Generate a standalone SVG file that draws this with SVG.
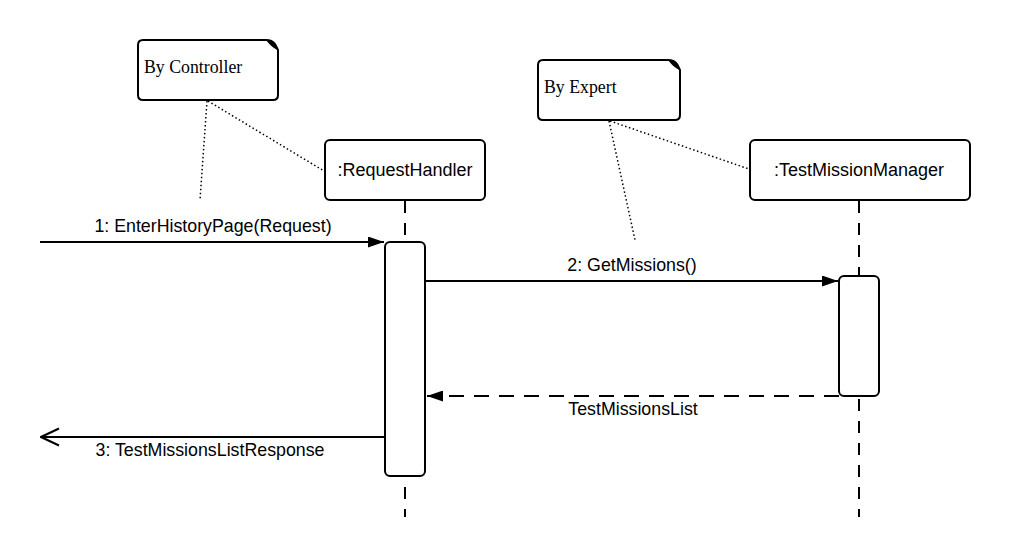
<svg xmlns="http://www.w3.org/2000/svg" width="1009" height="556" viewBox="0 0 1009 556">
  <style>
    .box { fill: #fff; stroke: #000; stroke-width: 2; }
    .note { fill: #fff; stroke: #000; stroke-width: 2; stroke-linejoin: round; }
    .life { stroke: #000; stroke-width: 2; stroke-dasharray: 12 10; fill: none; }
    .msg { stroke: #000; stroke-width: 2; fill: none; }
    .ret { stroke: #000; stroke-width: 2; fill: none; stroke-dasharray: 15 10; }
    .dot { stroke: #000; stroke-width: 1.5; fill: none; stroke-dasharray: 1.5 2.5; }
    .lbl { font-family: "Liberation Sans", Arial, sans-serif; font-size: 17.8px; fill: #000; text-anchor: middle; }
    .name { font-family: "Liberation Sans", Arial, sans-serif; font-size: 18px; fill: #000; text-anchor: middle; }
    .ntxt { font-family: "Liberation Serif", "Times New Roman", serif; font-size: 17.8px; fill: #000; }
  </style>
  <defs>
    <marker id="solid" viewBox="0 0 16 11" refX="16" refY="5.5" markerWidth="16" markerHeight="11" markerUnits="userSpaceOnUse" orient="auto">
      <path d="M0,0 L16,5.5 L0,11 Z" fill="#000"/>
    </marker>
    <marker id="open" viewBox="0 0 20 20" refX="19" refY="10" markerWidth="20" markerHeight="20" markerUnits="userSpaceOnUse" orient="auto">
      <path d="M1,1.5 L19,10 L1,18.5" fill="none" stroke="#000" stroke-width="2"/>
    </marker>
  </defs>

  <rect width="1009" height="556" fill="#fff"/>

  <!-- lifelines -->
  <g id="lifelines">
    <line class="life" x1="405" y1="201" x2="405" y2="517"/>
    <line class="life" x1="859" y1="201" x2="859" y2="517"/>
  </g>

  <!-- notes -->
  <g id="note-controller">
    <path class="note" d="M143,40 L266,40 Q272,40 275,44 L278,50 L278,95 Q278,100 273,100 L143,100 Q138,100 138,95 L138,45 Q138,40 143,40 Z"/>
    <path d="M266,40 Q272,40 275,44 L278,50 Q272,48 266,40 Z" fill="#000"/>
    <text class="ntxt" x="144" y="73">By Controller</text>
  </g>
  <g id="note-expert">
    <path class="note" d="M543,60 L668,60 Q674,60 677,64 L680,70 L680,115 Q680,120 675,120 L543,120 Q538,120 538,115 L538,65 Q538,60 543,60 Z"/>
    <path d="M668,60 Q674,60 677,64 L680,70 Q674,68 668,60 Z" fill="#000"/>
    <text class="ntxt" x="544" y="93">By Expert</text>
  </g>

  <!-- participants -->
  <g id="request-handler">
    <rect class="box" x="325" y="140" width="160" height="60" rx="5"/>
    <text class="name" x="405" y="176">:RequestHandler</text>
  </g>
  <g id="test-mission-manager">
    <rect class="box" x="750" y="140" width="220" height="60" rx="5"/>
    <text class="name" x="859" y="176">:TestMissionManager</text>
  </g>

  <!-- activation bars -->
  <g id="activation-handler">
    <rect class="box" x="385" y="242" width="40" height="234" rx="5"/>
  </g>
  <g id="activation-manager">
    <rect class="box" x="839" y="276" width="40" height="120" rx="5"/>
  </g>

  <!-- connectors -->
  <g id="connectors">
    <line class="dot" x1="207" y1="101" x2="200" y2="200"/>
    <line class="dot" x1="208" y1="101" x2="324" y2="171"/>
    <line class="dot" x1="609" y1="121" x2="635" y2="240"/>
    <line class="dot" x1="610" y1="121" x2="749" y2="169"/>

    <line class="msg" x1="40" y1="242" x2="384" y2="242" marker-end="url(#solid)"/>
    <line class="msg" x1="425" y1="281" x2="838" y2="281" marker-end="url(#solid)"/>
    <line class="ret" x1="839" y1="396" x2="427" y2="396" marker-end="url(#solid)"/>
    <line class="msg" x1="385" y1="437" x2="41" y2="437" marker-end="url(#open)"/>
  </g>

  <!-- message labels -->
  <g id="labels">
    <text class="lbl" x="213" y="232">1: EnterHistoryPage(Request)</text>
    <text class="lbl" x="632" y="271">2: GetMissions()</text>
    <text class="lbl" x="633" y="415">TestMissionsList</text>
    <text class="lbl" x="210" y="456">3: TestMissionsListResponse</text>
  </g>
</svg>
